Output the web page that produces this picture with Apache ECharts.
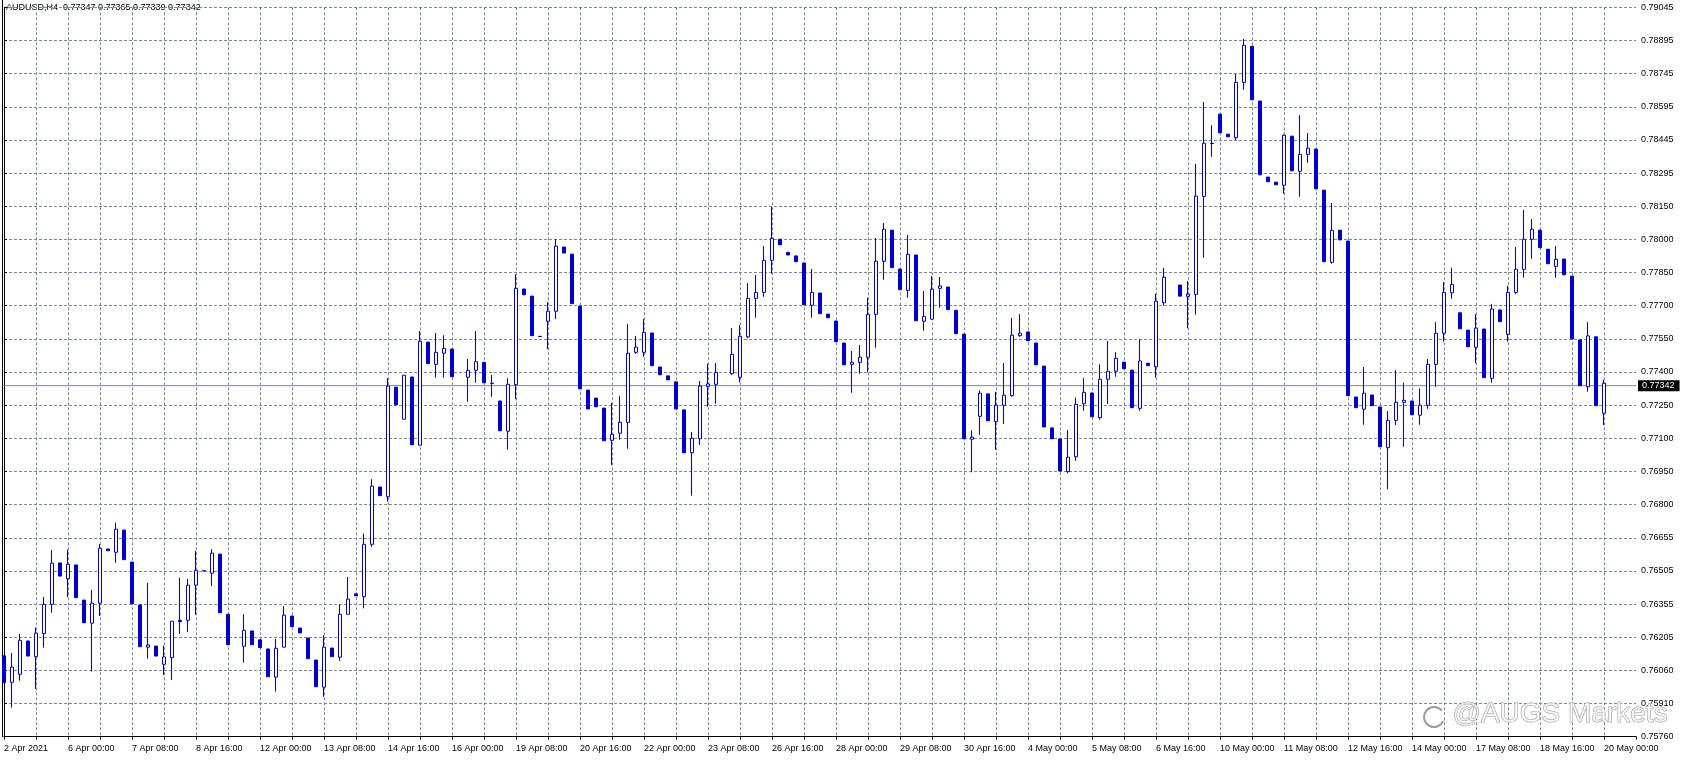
<!DOCTYPE html>
<html>
<head>
<meta charset="utf-8">
<script src="https://cdn.jsdelivr.net/npm/echarts@6/dist/echarts.min.js"></script>
<style>
html, body { margin: 0; padding: 0; background: #fff; }
#chart { width: 1684px; height: 761px; }
</style>
</head>
<body>
<div id="chart"></div>
<script>
// AUDUSD H4 bars, one row per bar: [open, close, low, high]; null = bar not drawn
const candles = [
  [0.76126, 0.76005, 0.76005, 0.76126], [0.76007, 0.76075, 0.75893, 0.76139], [0.76043, 0.76196, 0.76014, 0.76224],
  [0.76193, 0.76125, 0.76125, 0.76193], [0.76122, 0.76228, 0.75977, 0.76253], [0.76226, 0.76358, 0.76163, 0.76391],
  [0.76358, 0.76543, 0.76320, 0.76602], [0.76544, 0.76485, 0.76485, 0.76544], [0.76473, 0.76538, 0.76390, 0.76604],
  [0.76535, 0.76388, 0.76388, 0.76535], [0.76377, 0.76275, 0.76275, 0.76377], [0.76273, 0.76363, 0.76055, 0.76422],
  [0.76363, 0.76610, 0.76305, 0.76629], [0.76607, 0.76599, 0.76599, 0.76607], [0.76592, 0.76696, 0.76545, 0.76725],
  [0.76692, 0.76559, 0.76559, 0.76692], [0.76548, 0.76361, 0.76361, 0.76548], [0.76355, 0.76167, 0.76167, 0.76355],
  [0.76165, 0.76175, 0.76113, 0.76454], [0.76170, 0.76125, 0.76125, 0.76170], [0.76088, 0.76121, 0.76040, 0.76172],
  [0.76118, 0.76282, 0.76017, 0.76282], [0.76286, 0.76280, 0.76224, 0.76478], [0.76286, 0.76444, 0.76233, 0.76472],
  [0.76444, 0.76511, 0.76311, 0.76598], [0.76509, 0.76508, 0.76508, 0.76509], [0.76498, 0.76588, 0.76440, 0.76606],
  [0.76584, 0.76320, 0.76320, 0.76584], [0.76313, 0.76176, 0.76176, 0.76313], null,
  [0.76169, 0.76241, 0.76095, 0.76313], [0.76238, 0.76176, 0.76176, 0.76238], [0.76198, 0.76163, 0.76163, 0.76198],
  [0.76157, 0.76032, 0.76032, 0.76157], [0.76030, 0.76160, 0.75965, 0.76202], [0.76165, 0.76309, 0.76165, 0.76350],
  [0.76305, 0.76257, 0.76257, 0.76305], [0.76251, 0.76229, 0.76229, 0.76251], [0.76206, 0.76113, 0.76113, 0.76206],
  [0.76107, 0.75987, 0.75987, 0.76107], [0.75985, 0.76165, 0.75942, 0.76219], [0.76161, 0.76122, 0.76122, 0.76161],
  [0.76120, 0.76313, 0.76104, 0.76358], [0.76313, 0.76381, 0.76313, 0.76481], [0.76405, 0.76396, 0.76396, 0.76405],
  [0.76392, 0.76628, 0.76340, 0.76676], [0.76628, 0.76890, 0.76617, 0.76921], [0.76886, 0.76847, 0.76847, 0.76886],
  [0.76842, 0.77340, 0.76820, 0.77376], [0.77335, 0.77256, 0.77256, 0.77335], [0.77191, 0.77389, 0.77191, 0.77389],
  [0.77381, 0.77076, 0.77076, 0.77381], [0.77074, 0.77542, 0.77074, 0.77588], [0.77538, 0.77441, 0.77441, 0.77538],
  [0.77438, 0.77492, 0.77378, 0.77579], [0.77488, 0.77510, 0.77378, 0.77569], [0.77507, 0.77382, 0.77382, 0.77507],
  null, [0.77380, 0.77411, 0.77270, 0.77462], [0.77411, 0.77450, 0.77355, 0.77588],
  [0.77447, 0.77355, 0.77355, 0.77447], [0.77353, 0.77352, 0.77292, 0.77390], [0.77273, 0.77139, 0.77139, 0.77273],
  [0.77137, 0.77348, 0.77054, 0.77376], [0.77346, 0.77780, 0.77281, 0.77843], [0.77777, 0.77751, 0.77751, 0.77777],
  [0.77745, 0.77567, 0.77567, 0.77745], [0.77564, 0.77563, 0.77563, 0.77564], [0.77632, 0.77677, 0.77506, 0.77718],
  [0.77677, 0.77970, 0.77641, 0.78002], [0.77966, 0.77939, 0.77939, 0.77966], [0.77934, 0.77711, 0.77711, 0.77934],
  [0.77700, 0.77328, 0.77328, 0.77700], [0.77322, 0.77237, 0.77237, 0.77322], [0.77286, 0.77247, 0.77247, 0.77286],
  [0.77241, 0.77094, 0.77094, 0.77241], [0.77096, 0.77123, 0.76985, 0.77265], [0.77128, 0.77177, 0.77098, 0.77296],
  [0.77177, 0.77488, 0.77058, 0.77620], [0.77492, 0.77515, 0.77485, 0.77566], [0.77492, 0.77582, 0.77472, 0.77642],
  [0.77579, 0.77432, 0.77432, 0.77579], [0.77426, 0.77391, 0.77391, 0.77426], [0.77386, 0.77368, 0.77368, 0.77386],
  [0.77359, 0.77237, 0.77237, 0.77359], [0.77233, 0.77040, 0.77040, 0.77233], [0.77040, 0.77105, 0.76847, 0.77134],
  [0.77103, 0.77340, 0.77075, 0.77363], [0.77339, 0.77350, 0.77247, 0.77441], [0.77348, 0.77402, 0.77260, 0.77444],
  null, [0.77396, 0.77483, 0.77390, 0.77601], [0.77380, 0.77564, 0.77357, 0.77614],
  [0.77562, 0.77735, 0.77555, 0.77804], [0.77735, 0.77762, 0.77648, 0.77840], [0.77762, 0.77906, 0.77742, 0.77970],
  [0.77906, 0.78005, 0.77846, 0.78147], [0.78001, 0.77976, 0.77976, 0.78001], [0.77942, 0.77930, 0.77930, 0.77942],
  [0.77926, 0.77900, 0.77900, 0.77926], [0.77894, 0.77706, 0.77706, 0.77894], [0.77704, 0.77762, 0.77648, 0.77867],
  [0.77759, 0.77666, 0.77666, 0.77759], [0.77664, 0.77648, 0.77648, 0.77664], [0.77633, 0.77540, 0.77540, 0.77633],
  [0.77534, 0.77436, 0.77436, 0.77534], [0.77438, 0.77447, 0.77310, 0.77498], [0.77447, 0.77470, 0.77396, 0.77525],
  [0.77470, 0.77663, 0.77402, 0.77738], [0.77663, 0.77902, 0.77513, 0.78007], [0.77902, 0.78046, 0.77819, 0.78074],
  [0.78042, 0.77873, 0.77873, 0.78042], [0.77867, 0.77774, 0.77774, 0.77867], [0.77771, 0.77933, 0.77738, 0.78020],
  [0.77930, 0.77634, 0.77634, 0.77930], [0.77632, 0.77654, 0.77589, 0.77768], [0.77641, 0.77776, 0.77641, 0.77835],
  [0.77780, 0.77791, 0.77693, 0.77831], [0.77786, 0.77684, 0.77684, 0.77786], [0.77681, 0.77576, 0.77576, 0.77681],
  [0.77574, 0.77103, 0.77103, 0.77574], [0.77101, 0.77110, 0.76952, 0.77141], [0.77204, 0.77308, 0.77121, 0.77321],
  [0.77305, 0.77184, 0.77184, 0.77305], [0.77180, 0.77254, 0.77053, 0.77314], [0.77254, 0.77299, 0.77170, 0.77444],
  [0.77297, 0.77569, 0.77292, 0.77647], [0.77567, 0.77578, 0.77562, 0.77664], [0.77584, 0.77544, 0.77544, 0.77584],
  [0.77534, 0.77436, 0.77436, 0.77534], [0.77430, 0.77156, 0.77156, 0.77430], [0.77152, 0.77103, 0.77103, 0.77152],
  [0.77102, 0.76958, 0.76958, 0.77102], [0.76955, 0.77020, 0.76948, 0.77142], [0.77022, 0.77258, 0.77004, 0.77288],
  [0.77261, 0.77312, 0.77229, 0.77376], [0.77309, 0.77202, 0.77202, 0.77309], [0.77198, 0.77371, 0.77189, 0.77438],
  [0.77371, 0.77407, 0.77260, 0.77543], [0.77407, 0.77465, 0.77382, 0.77493], [0.77448, 0.77418, 0.77418, 0.77448],
  [0.77412, 0.77243, 0.77243, 0.77412], [0.77240, 0.77453, 0.77229, 0.77552], [0.77443, 0.77432, 0.77432, 0.77443],
  [0.77427, 0.77722, 0.77378, 0.77755], [0.77715, 0.77830, 0.77702, 0.77872], null,
  [0.77795, 0.77745, 0.77745, 0.77795], [0.77744, 0.77754, 0.77600, 0.77813], [0.77753, 0.78195, 0.77662, 0.78340],
  [0.78194, 0.78433, 0.77918, 0.78618], [0.78433, 0.78432, 0.78372, 0.78514], [0.78564, 0.78480, 0.78480, 0.78564],
  [0.78474, 0.78462, 0.78462, 0.78474], [0.78458, 0.78707, 0.78447, 0.78746], [0.78707, 0.78874, 0.78674, 0.78902],
  [0.78870, 0.78629, 0.78629, 0.78870], [0.78623, 0.78291, 0.78291, 0.78623], [0.78281, 0.78260, 0.78260, 0.78281],
  [0.78258, 0.78246, 0.78246, 0.78258], [0.78244, 0.78469, 0.78206, 0.78473], [0.78465, 0.78309, 0.78309, 0.78465],
  [0.78307, 0.78383, 0.78192, 0.78560], [0.78383, 0.78411, 0.78345, 0.78479], [0.78407, 0.78228, 0.78228, 0.78407],
  [0.78222, 0.77900, 0.77900, 0.78222], [0.77897, 0.78041, 0.77891, 0.78164], [0.78042, 0.77998, 0.77998, 0.78042],
  [0.77993, 0.77297, 0.77297, 0.77993], [0.77291, 0.77243, 0.77243, 0.77291], [0.77236, 0.77308, 0.77166, 0.77426],
  [0.77300, 0.77252, 0.77252, 0.77300], [0.77246, 0.77067, 0.77067, 0.77246], [0.77063, 0.77186, 0.76876, 0.77228],
  [0.77186, 0.77267, 0.77165, 0.77412], [0.77267, 0.77276, 0.77067, 0.77355], [0.77273, 0.77211, 0.77211, 0.77273],
  [0.77209, 0.77254, 0.77166, 0.77330], [0.77254, 0.77438, 0.77238, 0.77462], [0.77438, 0.77578, 0.77337, 0.77628],
  [0.77578, 0.77762, 0.77540, 0.77808], [0.77760, 0.77798, 0.77733, 0.77873], [0.77670, 0.77598, 0.77598, 0.77670],
  [0.77592, 0.77517, 0.77517, 0.77592], [0.77515, 0.77601, 0.77443, 0.77664], [0.77597, 0.77378, 0.77378, 0.77597],
  [0.77375, 0.77687, 0.77355, 0.77710], [0.77683, 0.77630, 0.77630, 0.77683], [0.77573, 0.77762, 0.77540, 0.77791],
  [0.77762, 0.77866, 0.77754, 0.77966], [0.77866, 0.78001, 0.77828, 0.78133], [0.78001, 0.78046, 0.77913, 0.78092],
  [0.78042, 0.77963, 0.77963, 0.78042], [0.77956, 0.77891, 0.77891, 0.77956], [0.77879, 0.77911, 0.77828, 0.77970],
  [0.77912, 0.77841, 0.77841, 0.77912], [0.77835, 0.77553, 0.77553, 0.77835], [0.77548, 0.77342, 0.77342, 0.77548],
  [0.77337, 0.77566, 0.77315, 0.77628], [0.77562, 0.77252, 0.77252, 0.77562], [0.77218, 0.77353, 0.77165, 0.77368]
];

// header quote: open, high, low, close; the close is the bid line
const lastQuote = [0.77347, 0.77365, 0.77339, 0.77342];
const symbolTitle = 'AUDUSD,H4';

// time labels, one every 8 bars
const dateLabels = [
  '2 Apr 2021', '6 Apr 00:00', '7 Apr 08:00', '8 Apr 16:00', '12 Apr 00:00', '13 Apr 08:00', '14 Apr 16:00',
  '16 Apr 00:00', '19 Apr 08:00', '20 Apr 16:00', '22 Apr 00:00', '23 Apr 08:00', '26 Apr 16:00', '28 Apr 00:00',
  '29 Apr 08:00', '30 Apr 16:00', '4 May 00:00', '5 May 08:00', '6 May 16:00', '10 May 00:00', '11 May 08:00',
  '12 May 16:00', '14 May 00:00', '17 May 08:00', '18 May 16:00', '20 May 00:00'
];

// price scale labels, bottom to top
const priceLabels = [
  '0.75760', '0.75910', '0.76060', '0.76205', '0.76355', '0.76505', '0.76655', '0.76800', '0.76950', '0.77100',
  '0.77250', '0.77400', '0.77550', '0.77700', '0.77850', '0.78000', '0.78150', '0.78295', '0.78445', '0.78595',
  '0.78745', '0.78895', '0.79045'
];

const yMin = 0.75762;
const yMax = 0.79045;
const yStep = (yMax - yMin) / (priceLabels.length - 1);
const xMax = 204;

const blue = '#0000cd';
const gridColor = '#778899';
const fontFamily = 'Liberation Sans, Arial, sans-serif';

const seriesData = [];
candles.forEach(function (c, i) {
  if (c) seriesData.push([i, c[0], c[1], c[2], c[3]]);
});

const chart = echarts.init(document.getElementById('chart'));

chart.setOption({
  animation: false,
  backgroundColor: '#ffffff',
  grid: { left: 4, right: 48, top: 7.3, bottom: 24.3 },
  xAxis: {
    type: 'value',
    min: 0,
    max: xMax,
    interval: 4,
    axisLine: { show: true, lineStyle: { color: '#000', width: 1 } },
    axisTick: { show: true, length: 3, lineStyle: { color: '#000' } },
    axisLabel: {
      align: 'left',
      margin: 7,
      fontSize: 9,
      color: '#000',
      fontFamily: fontFamily,
      formatter: function (v) {
        return v % 8 === 0 ? (dateLabels[v / 8] || '') : '';
      }
    },
    splitLine: {
      show: true,
      showMinLine: false,
      showMaxLine: false,
      lineStyle: { color: gridColor, type: [3, 2], width: 1 }
    }
  },
  yAxis: {
    type: 'value',
    position: 'right',
    scale: true,
    min: yMin,
    max: yMax,
    interval: yStep,
    axisLine: { show: true, lineStyle: { color: '#000', width: 1 } },
    axisTick: { show: true, length: 3, lineStyle: { color: '#000' } },
    axisLabel: {
      margin: 5,
      fontSize: 9,
      color: '#000',
      fontFamily: fontFamily,
      formatter: function (v) {
        const k = (v - yMin) / yStep;
        const i = Math.round(k);
        return Math.abs(k - i) < 0.05 ? (priceLabels[i] || '') : '';
      }
    },
    splitLine: {
      show: true,
      lineStyle: { color: gridColor, type: [3, 2], width: 1 }
    }
  },
  series: [
    {
      // bid line with its price box on the scale
      type: 'line',
      data: [[-0.2, lastQuote[3]], [xMax, lastQuote[3]]],
      symbol: 'none',
      silent: true,
      clip: false,
      z: 1,
      lineStyle: { color: gridColor, width: 1, type: 'solid' },
      endLabel: {
        show: true,
        distance: 2,
        formatter: function () { return lastQuote[3].toFixed(5); },
        backgroundColor: '#000',
        color: '#fff',
        fontSize: 9,
        fontFamily: fontFamily,
        padding: [1, 5, 1, 4]
      }
    },
    {
      type: 'candlestick',
      data: seriesData,
      encode: { x: 0, y: [1, 2, 3, 4] },
      barWidth: 3,
      clip: false,
      z: 2,
      itemStyle: {
        color: '#ffffff',
        color0: blue,
        borderColor: blue,
        borderColor0: blue,
        borderColorDoji: blue,
        borderWidth: 1
      }
    }
  ],
  graphic: [
    // left frame of the chart window
    { type: 'line', shape: { x1: 2.5, y1: 0, x2: 2.5, y2: 737 }, style: { stroke: '#000', lineWidth: 1 } },
    {
      type: 'text', left: 6, top: 3,
      style: {
        text: symbolTitle + '  ' + lastQuote.map(function (v) { return v.toFixed(5); }).join(' '),
        fontSize: 9, fontFamily: fontFamily, fill: '#000'
      }
    },
    // watermark
    {
      type: 'arc', z: 100,
      shape: { cx: 1434, cy: 717, r: 10, startAngle: 0.4, endAngle: 5.6 },
      style: { stroke: '#9a9a9a', fill: 'none', lineWidth: 2 }
    },
    {
      type: 'text', z: 100, left: 1452, top: 700,
      style: {
        text: '@AUGS Markets', fontSize: 28, fontFamily: fontFamily,
        fill: 'rgba(255,255,255,0.7)', stroke: '#9a9a9a', lineWidth: 1
      }
    }
  ]
});
</script>
</body>
</html>
